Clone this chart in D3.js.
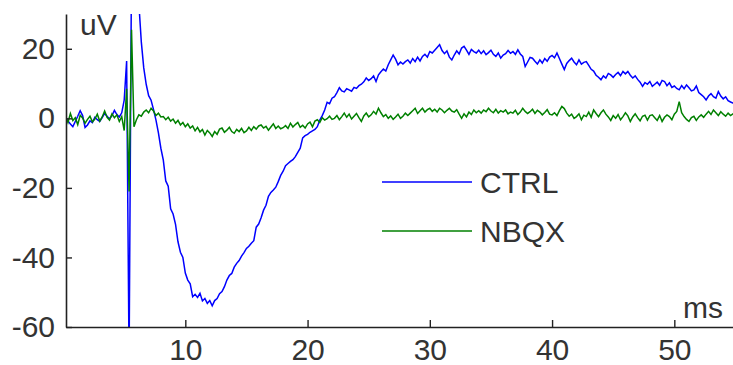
<!DOCTYPE html>
<html>
<head>
<meta charset="utf-8">
<script src="https://cdn.jsdelivr.net/npm/d3@7"></script>
<style>
  html, body { margin: 0; padding: 0; background: #fff; }
  svg text { font-family: "Liberation Sans", Arial, sans-serif; fill: #333; }
</style>
</head>
<body>
<div id="chart"></div>
<script>
// sampled traces, first sample at 0.2 ms, one sample every 0.2 ms
const startMs = 0.2;
const sampleMs = 0.2;

const ctrl = [
  0.5, -0.8, -1.6, -2.4, -0.9, 0.6, 2.2, 0.8, -2.6, -1.9,
  -0.7, -1.2, 0.3, -0.4, -0.9, 0.2, 1.4, 0.6, -0.2, 0.8,
  2.3, 1.1, 0.4, 1.6, 5.2, 16.5, -70, 45, 48, 42,
  33, 22, 14.5, 9.8, 6.5, 5.2, 2.5, -0.5, -4.2, -8.6,
  -12, -18, -19.5, -26, -27.5, -30.5, -35.5, -38.5, -40, -44.5,
  -46.5, -47.6, -51.3, -50.6, -51.5, -50.3, -52.5, -51.8, -53.2, -52.4,
  -53.9, -52.4, -51.8, -50.4, -49.8, -48.4, -46.5, -45.2, -44.6, -42.8,
  -41.7, -40.9, -39.6, -38.6, -37.4, -36.8, -35.9, -35.2, -31.3, -30.4,
  -28.6, -26.4, -25, -22.4, -21.3, -20.6, -19.8, -18.2, -16.4, -15.2,
  -13.6, -13, -12.4, -11.9, -11, -9.8, -8.6, -5.6, -5, -4.6,
  -4, -3.6, -3.2, -2.4, -0.5, 0.8, 2.4, 4.6, 4.2, 5.8,
  6.2, 7.4, 8.8, 7.9, 7.6, 8.5, 8.2, 7.8, 8.9, 8.6,
  9.4, 9.8, 10.5, 11.6, 10.9, 11.4, 12.2, 10.6, 12.5, 13.4,
  14.2, 13.6, 15.4, 16.8, 18.2, 17, 15.4, 16.2, 15.6, 16.3,
  16.8, 15.9, 17.2, 16.3, 17.6, 16.5, 17.8, 18.4, 17.6, 19.2,
  18.8, 19.6, 20.4, 21.2, 19.5, 18.6, 19.4, 17.6, 16.8, 18.2,
  19.4, 18.5, 20.2, 20.7, 19.6, 18.4, 19.8, 19.2, 18.8, 19.6,
  18.6, 19.4, 18.3, 18.9, 19.6, 18.4, 17.8, 18.8, 17.3, 18.2,
  18.6, 19.5, 18.7, 19.2, 18.4, 19.7, 18.5, 17.8, 14.9, 16.2,
  17.5, 17.3, 16.4, 15.6, 16.8, 15.9, 17.2, 16.4, 17.6, 18.1,
  17.4, 18.8, 17.2, 15.6, 14, 15.8, 16.6, 17.3, 16.2, 15.4,
  16.8, 15.6, 16.1, 16.3, 15.2, 14.1, 13.6, 12.4, 11.8, 11.1,
  12.2, 11.6, 12.9, 12.5, 11.8, 12.6, 13.2, 12.3, 13.5, 12.8,
  13.5, 12.4, 11.6, 12.2, 11.2, 10.4, 9.2, 10.3, 9.8, 10.6,
  9.2, 9.8, 10.4, 9.5, 10.9, 10.6, 9.4, 10.2, 8.9, 9.3,
  8.6, 8.2, 9.4, 8.5, 9.6, 8.8, 7.9, 8.2, 9.3, 7.4,
  6.8, 6.2, 5.3, 6.4, 7.1, 6.2, 5.8, 7.7, 6.4, 5.6,
  6.2, 5.1, 4.7, 4.4, 3.8
];

const nbqx = [
  0.8, -1.2, 1.4, -0.6, 0.2, -1.8, 0.9, 0.1, -1.4, -0.3,
  0.6, -1.0, -0.2, 1.2, -0.8, 0.4, 2.1, 0.3, -0.5, 1.3,
  0.2, 1.0, -0.9, 0.5, -3.5, 8.5, -21, 25.5, -2.4, -0.4,
  1.0, 0.6, 1.8, 2.4, 1.6, 2.9, 2.1, 0.8, 1.5, 0.4,
  0.5, -0.4, 0.3, -0.8, -0.2, -1.4, -0.6, -1.9, -1.2, -2.4,
  -1.6, -2.8, -2.2, -3.6, -2.6, -3.9, -3.2, -4.8, -3.5, -4.2,
  -5.2, -3.8, -4.6, -3.1, -2.8, -4.0, -3.4, -2.6, -3.8, -4.3,
  -3.2, -3.8, -2.9, -4.1, -3.6, -2.6, -3.5, -2.4, -3.1, -2.2,
  -1.9, -2.8, -2.3, -3.4, -2.5, -1.6, -2.9, -2.2, -3.0, -2.7,
  -2.1, -2.9, -1.4, -2.5, -1.8, -1.2, -2.6, -2.0, -2.8, -1.6,
  -1.1, -2.4, -0.8, -0.4, -1.2, 0.2, -0.5, -0.1, 0.6, -0.3,
  0.0, 0.8, -0.4, 0.5, 1.5, 0.3, 1.2, -0.2, 0.6, 1.4,
  0.2, -0.9, 0.7, 1.5, 0.4, 1.0, 2.0, 1.2, 2.9, 1.6,
  0.5, 1.1, 0.0, 0.7, -0.3, 0.4, 1.2, 0.0, 0.6, 1.5,
  0.8, 1.5, 2.2, 2.9, 1.4, 2.2, 2.9, 1.8, 2.5, 2.9,
  2.0, 2.6, 1.8, 2.9, 2.4, 1.6, 2.3, 2.9, 2.1, 1.8,
  2.5, 1.2, 0.0, 1.3, 0.4, 1.8, 1.1, 2.4, 1.6, 2.2,
  1.5, 2.4, 1.9, 2.9, 2.1, 1.6, 2.6, 1.5, 2.2, 1.8,
  2.4, 1.3, 1.8, 1.5, 2.3, 1.1, 1.8, 2.9, 2.0, 1.4,
  1.9, 2.6, 1.4, 2.3, 1.8, 1.0, 1.7, 2.5, 1.2, 1.0,
  1.6, 0.8, 2.2, 3.4, 2.8, 1.5, 0.6, 1.2, 0.0, 0.5,
  1.3, -0.4, 0.9, 0.5, 1.8, 0.3, 2.4, 1.4, 0.5, 1.6,
  2.4, 1.2, 0.4, -0.6, 0.8, 0.0, 1.1, -0.4, 0.5, 1.6,
  0.7, -0.9, 0.4, 1.3, 0.2, -0.7, 0.6, 0.9, -0.5, 0.8,
  1.0, 0.2, -0.6, 0.8, -0.9, 0.3, 1.0, 0.5, -0.4, 1.2,
  2.0, 4.8, 1.6, 0.5, -0.3, -0.9, 0.2, 0.6, -0.6, 0.4,
  1.0, 0.3, 1.2, 2.0, 1.1, 2.4, 1.6, 0.8, 1.9, 1.2,
  0.6, 1.5, 0.8, 1.3, 1.0
];

const seriesNames = ["CTRL", "NBQX"];
const seriesColors = ["#0000ff", "#008000"];
const xTicks = [10, 20, 30, 40, 50];
const yTicks = [-60, -40, -20, 0, 20];

const width = 733, height = 365;
const plot = { left: 66, right: 733, top: 14, bottom: 327 };

const svg = d3.select("#chart")
  .append("svg")
  .attr("width", width)
  .attr("height", height);

const x = d3.scaleLinear().domain([0.24, 54.8]).range([plot.left, plot.right]);
const y = d3.scaleLinear().domain([-60, 30]).range([plot.bottom, plot.top]);

svg.append("clipPath")
  .attr("id", "plot-clip")
  .append("rect")
  .attr("x", plot.left)
  .attr("y", plot.top)
  .attr("width", plot.right - plot.left)
  .attr("height", plot.bottom - plot.top);

const line = d3.line()
  .x((d, i) => x(startMs + i * sampleMs))
  .y(d => y(d));

const traces = svg.append("g").attr("clip-path", "url(#plot-clip)");

// draw CTRL first, NBQX on top
[ctrl, nbqx].forEach((values, k) => {
  traces.append("path")
    .datum(values)
    .attr("fill", "none")
    .attr("stroke", seriesColors[k])
    .attr("stroke-width", 1.5)
    .attr("stroke-linejoin", "miter")
    .attr("d", line);
});

// axes, ticks pointing inward; plain hyphen for negatives like the original
const plainFormat = d => String(d);

const xAxis = svg.append("g")
  .attr("transform", "translate(0," + plot.bottom + ")")
  .call(d3.axisBottom(x).tickValues(xTicks).tickFormat(plainFormat)
    .tickSizeInner(-7).tickSizeOuter(0).tickPadding(12));

const yAxis = svg.append("g")
  .attr("transform", "translate(" + plot.left + ",0)")
  .call(d3.axisLeft(y).tickValues(yTicks).tickFormat(plainFormat)
    .tickSizeInner(-6).tickSizeOuter(0).tickPadding(11));

[xAxis, yAxis].forEach(g => {
  g.select(".domain").attr("stroke", "#222").attr("stroke-width", 1.6);
  g.selectAll(".tick line").attr("stroke", "#222").attr("stroke-width", 1.4);
  g.selectAll("text")
    .attr("font-size", 30)
    .attr("font-family", "Liberation Sans, Arial, sans-serif")
    .attr("fill", "#333");
});

// unit labels
svg.append("text")
  .attr("x", 80)
  .attr("y", 35)
  .attr("font-size", 30)
  .text("uV");

svg.append("text")
  .attr("x", 683)
  .attr("y", 318)
  .attr("font-size", 30)
  .text("ms");

// legend
const legend = svg.append("g");
seriesNames.forEach((name, k) => {
  const ly = 182 + k * 49;
  legend.append("line")
    .attr("x1", 382).attr("x2", 472)
    .attr("y1", ly).attr("y2", ly)
    .attr("stroke", seriesColors[k])
    .attr("stroke-width", 1.5);
  legend.append("text")
    .attr("x", 480)
    .attr("y", ly)
    .attr("dy", "0.36em")
    .attr("font-size", 30)
    .text(name);
});
</script>
</body>
</html>
